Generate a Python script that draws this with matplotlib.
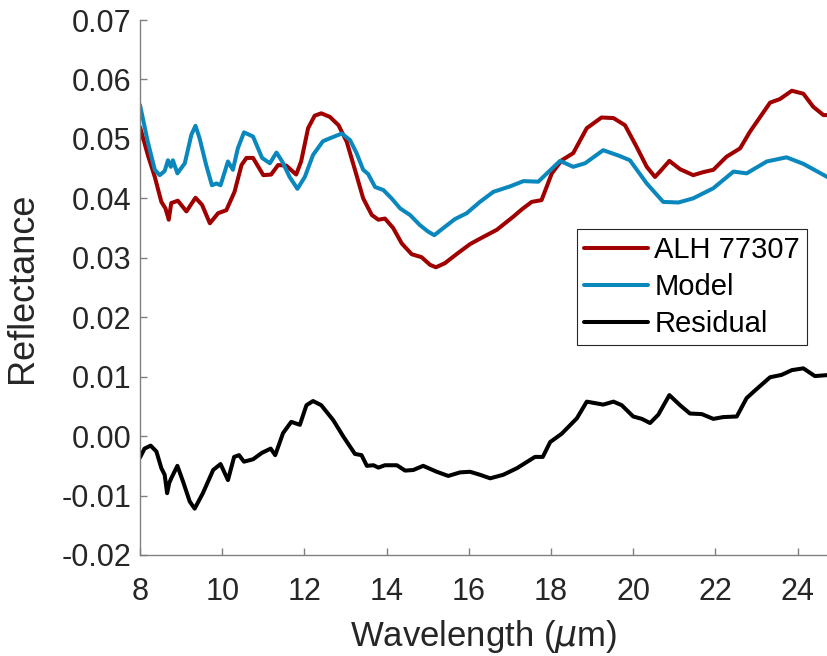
import matplotlib
matplotlib.use("Agg")
import matplotlib.pyplot as plt

plt.rcParams['font.family'] = ['Liberation Sans', 'DejaVu Sans']
plt.rcParams['mathtext.fontset'] = 'dejavusans'

# measured spectrum (ALH 77307)
wl_meas = [8.0, 8.19, 8.36, 8.52, 8.62, 8.70, 8.76, 8.92, 9.13, 9.35, 9.51, 9.70,
           9.90, 10.10, 10.30, 10.47, 10.59, 10.75, 11.0, 11.19, 11.36, 11.56, 11.80,
           11.92, 12.09, 12.25, 12.41, 12.62, 12.83, 13.03, 13.23, 13.43, 13.64, 13.80,
           13.96, 14.16, 14.37, 14.61, 14.85, 15.06, 15.20, 15.42, 15.70, 16.03, 16.35,
           16.68, 17.08, 17.30, 17.53, 17.77, 18.02, 18.26, 18.54, 18.87, 19.23, 19.52,
           19.80, 20.08, 20.33, 20.53, 20.69, 20.88, 21.14, 21.46, 21.70, 21.95, 22.27,
           22.60, 22.84, 23.09, 23.33, 23.57, 23.86, 24.14, 24.38, 24.63, 24.80]
refl_meas = [0.0520, 0.0473, 0.0436, 0.0394, 0.0383, 0.0364, 0.0392, 0.0396, 0.0378,
             0.0401, 0.0389, 0.0358, 0.0375, 0.0380, 0.0411, 0.0456, 0.0468, 0.0468,
             0.0439, 0.0440, 0.0456, 0.0455, 0.0440, 0.0462, 0.0518, 0.0539, 0.0543,
             0.0537, 0.0523, 0.0495, 0.0448, 0.0400, 0.0372, 0.0364, 0.0366, 0.0350,
             0.0324, 0.0306, 0.0301, 0.0288, 0.0284, 0.0291, 0.0306, 0.0323, 0.0335,
             0.0347, 0.0369, 0.0382, 0.0394, 0.0397, 0.0442, 0.0464, 0.0476, 0.0518,
             0.0536, 0.0535, 0.0523, 0.0487, 0.0453, 0.0436, 0.0448, 0.0463, 0.0449,
             0.0439, 0.0444, 0.0448, 0.0470, 0.0484, 0.0512, 0.0537, 0.0561, 0.0567,
             0.0581, 0.0576, 0.0554, 0.0540, 0.0540]

# model fit
wl_model = [8.0, 8.19, 8.36, 8.48, 8.60, 8.68, 8.75, 8.80, 8.91, 9.09, 9.25, 9.35,
            9.45, 9.61, 9.75, 9.86, 9.96, 10.14, 10.26, 10.38, 10.53, 10.75, 10.97,
            11.16, 11.32, 11.46, 11.64, 11.83, 12.01, 12.21, 12.45, 12.62, 12.91, 13.11,
            13.27, 13.43, 13.55, 13.72, 13.92, 14.12, 14.33, 14.57, 14.81, 15.01, 15.16,
            15.38, 15.66, 15.95, 16.27, 16.60, 17.0, 17.33, 17.69, 18.22, 18.54, 18.83,
            19.27, 19.68, 19.92, 20.33, 20.73, 21.10, 21.46, 21.95, 22.44, 22.76, 23.25,
            23.73, 24.14, 24.80]
refl_model = [0.0557, 0.0495, 0.0448, 0.0439, 0.0446, 0.0464, 0.0453, 0.0464, 0.0442,
              0.0459, 0.0507, 0.0522, 0.0501, 0.0456, 0.0422, 0.0425, 0.0422, 0.0462,
              0.0448, 0.0484, 0.0511, 0.0504, 0.0468, 0.0459, 0.0477, 0.0462, 0.0436,
              0.0416, 0.0436, 0.0473, 0.0496, 0.0501, 0.0509, 0.0498, 0.0476, 0.0448,
              0.0441, 0.0419, 0.0414, 0.0400, 0.0383, 0.0372, 0.0355, 0.0344, 0.0338,
              0.0350, 0.0365, 0.0375, 0.0394, 0.0411, 0.0420, 0.0429, 0.0428, 0.0463,
              0.0453, 0.0459, 0.0481, 0.0471, 0.0464, 0.0425, 0.0394, 0.0393, 0.0400,
              0.0417, 0.0445, 0.0442, 0.0462, 0.0469, 0.0458, 0.0433]

# residual (measured - model)
wl_resid = [8.0, 8.11, 8.26, 8.40, 8.52, 8.60, 8.66, 8.71, 8.76, 8.91, 9.05, 9.21,
            9.33, 9.53, 9.78, 9.96, 10.14, 10.29, 10.41, 10.53, 10.75, 10.97, 11.18,
            11.29, 11.48, 11.68, 11.89, 12.05, 12.21, 12.41, 12.70, 12.95, 13.23, 13.39,
            13.52, 13.68, 13.80, 13.96, 14.25, 14.45, 14.65, 14.89, 15.22, 15.50, 15.79,
            16.03, 16.27, 16.52, 16.84, 17.17, 17.61, 17.80, 17.98, 18.26, 18.63, 18.87,
            19.27, 19.52, 19.72, 20.0, 20.21, 20.41, 20.61, 20.88, 21.14, 21.38, 21.67,
            21.95, 22.19, 22.52, 22.76, 23.0, 23.33, 23.61, 23.86, 24.14, 24.42, 24.80]
resid = [-0.0036, -0.0021, -0.0016, -0.0026, -0.0054, -0.0065, -0.0096, -0.0079,
         -0.0071, -0.0050, -0.0077, -0.0110, -0.0122, -0.0096, -0.0057, -0.0047,
         -0.0074, -0.0035, -0.0032, -0.0043, -0.0039, -0.0028, -0.0021, -0.0032,
         0.0005, 0.0024, 0.0019, 0.0052, 0.0059, 0.0052, 0.0027, -0.0001, -0.0030,
         -0.0032, -0.0050, -0.0049, -0.0053, -0.0049, -0.0049, -0.0058, -0.0057,
         -0.0050, -0.0060, -0.0067, -0.0061, -0.0060, -0.0065, -0.0071, -0.0065,
         -0.0054, -0.0035, -0.0035, -0.0010, 0.0004, 0.0030, 0.0058, 0.0053, 0.0058,
         0.0052, 0.0033, 0.0029, 0.0022, 0.0036, 0.0069, 0.0052, 0.0038, 0.0037,
         0.0029, 0.0032, 0.0033, 0.0064, 0.0079, 0.0099, 0.0103, 0.0111, 0.0114,
         0.0101, 0.0103]

x_ticks = [8, 10, 12, 14, 16, 18, 20, 22, 24]
y_ticks = [-0.02, -0.01, 0.0, 0.01, 0.02, 0.03, 0.04, 0.05, 0.06, 0.07]
y_tick_labels = ['-0.02', '-0.01', '0.00', '0.01', '0.02', '0.03', '0.04', '0.05',
                 '0.06', '0.07']

fig = plt.figure(figsize=(8.28, 6.56), dpi=100)
ax = fig.add_axes([140 / 828, 101 / 656, 1 - 140 / 828, 535 / 656])

lw = 2.9
line_kw = dict(lw=lw, solid_joinstyle='round', solid_capstyle='round')
ax.plot(wl_meas, refl_meas, color='#A00000', label='ALH 77307', **line_kw)
ax.plot(wl_model, refl_model, color='#0A88BE', label='Model', **line_kw)
ax.plot(wl_resid, resid, color='black', label='Residual', **line_kw)

ax.set_xlim(8, 8 + 688 / 41.1)
ax.set_ylim(-0.02, 0.07)
ax.set_xticks(x_ticks)
ax.set_yticks(y_ticks)
ax.set_yticklabels(y_tick_labels)

for side in ('top', 'right'):
    ax.spines[side].set_visible(False)
for side in ('left', 'bottom'):
    ax.spines[side].set_color('#808080')
    ax.spines[side].set_linewidth(1.0)
ax.tick_params(direction='in', length=5, width=1.0, color='#808080',
               labelsize=22, labelcolor='#262626')
ax.tick_params(axis='y', pad=6)
ax.tick_params(axis='x', pad=16)

ax.set_xlabel(r'Wavelength ($\mu$m)', fontsize=25, color='#262626', labelpad=8)
ax.set_ylabel('Reflectance', fontsize=26, color='#262626', labelpad=16)

leg = ax.legend(loc='upper left', bbox_to_anchor=(0.635, 0.609), fontsize=21,
                frameon=True, fancybox=False, framealpha=1, edgecolor='#262626',
                handlelength=2.2, handletextpad=0.2, borderpad=0.25,
                labelspacing=0.3, borderaxespad=0)
leg.get_frame().set_linewidth(0.8)

fig.savefig('out.png', dpi=100)
